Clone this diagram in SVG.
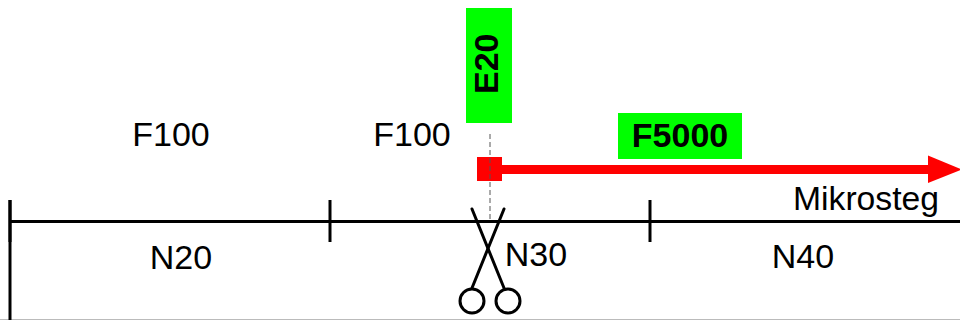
<svg xmlns="http://www.w3.org/2000/svg" width="960" height="320" viewBox="0 0 960 320">
<style>
text{font-family:"Liberation Sans",Arial,sans-serif;fill:#000}
.l{font-size:34px}
.b{font-size:34px;font-weight:bold}
.k{fill:none;stroke:#000;stroke-width:3}
.g{fill:#00ff00}
</style>
<rect width="960" height="320" fill="#fff"/>
<g id="connectors">
<line x1="0" y1="319.5" x2="960" y2="319.5" stroke="#bbb" stroke-width="1"/>
<line x1="10" y1="221.5" x2="960" y2="221.5" class="k"/>
<line x1="10" y1="200" x2="10" y2="320" class="k"/>
<line x1="10" y1="200" x2="10" y2="242" class="k"/>
<line x1="330" y1="200" x2="330" y2="242" class="k"/>
<line x1="650" y1="200" x2="650" y2="242" class="k"/>
</g>
<g id="cut">
<rect x="477" y="157" width="25" height="24" fill="#f00"/>
<rect x="502" y="165" width="427" height="9" fill="#f00"/>
<polygon points="928,155.500 962,169.500 928,183" fill="#f00"/>
<line x1="490" y1="134" x2="490" y2="220" stroke="#555" stroke-width="1" stroke-dasharray="5 3"/>
</g>
<g id="scissors">
<line x1="472" y1="209" x2="504" y2="288" class="k" stroke-linecap="round"/>
<line x1="504" y1="209" x2="472" y2="288" class="k" stroke-linecap="round"/>
<circle cx="472" cy="301" r="12" class="k"/>
<circle cx="508" cy="301" r="12" class="k"/>
</g>
<g id="e20">
<rect x="466" y="8" width="46" height="115" class="g"/>
<text class="b" transform="translate(498 94) rotate(-90)">E20</text>
</g>
<g id="f5000">
<rect x="618" y="113" width="124" height="46" class="g"/>
<text class="b" x="680" y="147" text-anchor="middle">F5000</text>
</g>
<g id="f100a"><text class="l" x="171" y="146" text-anchor="middle">F100</text></g>
<g id="f100b"><text class="l" x="412" y="146" text-anchor="middle">F100</text></g>
<g id="mikrosteg"><text x="793" y="210" font-size="33.700">Mikrosteg</text></g>
<g id="n20"><text class="l" x="181" y="269" text-anchor="middle">N20</text></g>
<g id="n30"><text class="l" x="536" y="266" text-anchor="middle">N30</text></g>
<g id="n40"><text class="l" x="803" y="268" text-anchor="middle">N40</text></g>
</svg>
